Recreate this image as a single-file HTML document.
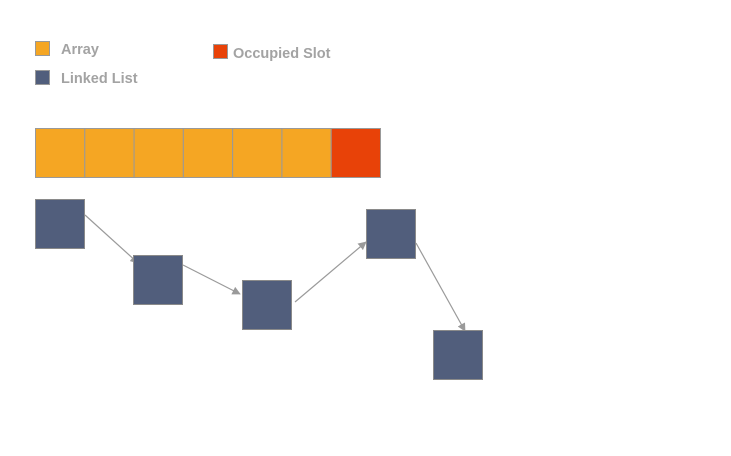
<!DOCTYPE html>
<html><head><meta charset="utf-8"><style>
body{margin:0;width:731px;height:456px;background:#fff;overflow:hidden}
svg{display:block}
text{font-family:"Liberation Sans",sans-serif;font-weight:bold;font-size:14.5px;fill:#a3a3a3}
</style></head><body>
<svg id="c" width="731" height="456">
<defs><marker id="ah" viewBox="0 0 10 10" refX="9" refY="5" markerWidth="7" markerHeight="7" orient="auto"><path d="M0,0L10,5L0,10z" fill="#9a9a9a"/></marker></defs>
<g>
<rect x="35.5" y="41.5" width="14" height="14" fill="#f5a623" stroke="#999"/>
<text x="61" y="54">Array</text>
<rect x="35.5" y="70.5" width="14" height="14" fill="#515e7c" stroke="#999"/>
<text x="61" y="83">Linked List</text>
<rect x="213.5" y="44.5" width="14" height="14" fill="#e84208" stroke="#999"/>
<text x="233" y="58">Occupied Slot</text>
</g>
<g id="arr"></g>
<g id="ll"></g>
</svg>
<script>
const cellStates=[0,0,0,0,0,0,1];
const nodeX=[35,133,242,366,433];
const nodeY=[199,255,280,209,330];
const NS="http://www.w3.org/2000/svg";
const arr=document.getElementById('arr'),ll=document.getElementById('ll');
const cw=345/cellStates.length;
cellStates.forEach((s,i)=>{
 const r=document.createElementNS(NS,'rect');
 r.setAttribute('x',35.5+i*cw);r.setAttribute('y',128.5);r.setAttribute('width',cw);r.setAttribute('height',49);
 r.setAttribute('fill',s?'#e84208':'#f5a623');r.setAttribute('stroke','#999');r.setAttribute('stroke-width','1');
 
 
 arr.appendChild(r);
});
const S=49;
// link anchor styling (offsets relative to node boxes)
const startOff=[[50,16],[50,10],[53,22],[50,34]];
const endOff=[[5,8],[-2,14],[0,33],[32,1]];
for(let i=0;i<nodeX.length-1;i++){
 const l=document.createElementNS(NS,'line');
 l.setAttribute('x1',nodeX[i]+startOff[i][0]);l.setAttribute('y1',nodeY[i]+startOff[i][1]);
 l.setAttribute('x2',nodeX[i+1]+endOff[i][0]);l.setAttribute('y2',nodeY[i+1]+endOff[i][1]);
 l.setAttribute('stroke','#9a9a9a');l.setAttribute('stroke-width','1.2');l.setAttribute('marker-end','url(#ah)');
 
 
 ll.appendChild(l);
}
nodeX.forEach((x,i)=>{
 const r=document.createElementNS(NS,'rect');
 r.setAttribute('x',x+0.5);r.setAttribute('y',nodeY[i]+0.5);r.setAttribute('width',S);r.setAttribute('height',S);
 r.setAttribute('fill','#515e7c');r.setAttribute('stroke','#8a8a8a');
 
 
 ll.appendChild(r);
});
</script>
</body></html>
